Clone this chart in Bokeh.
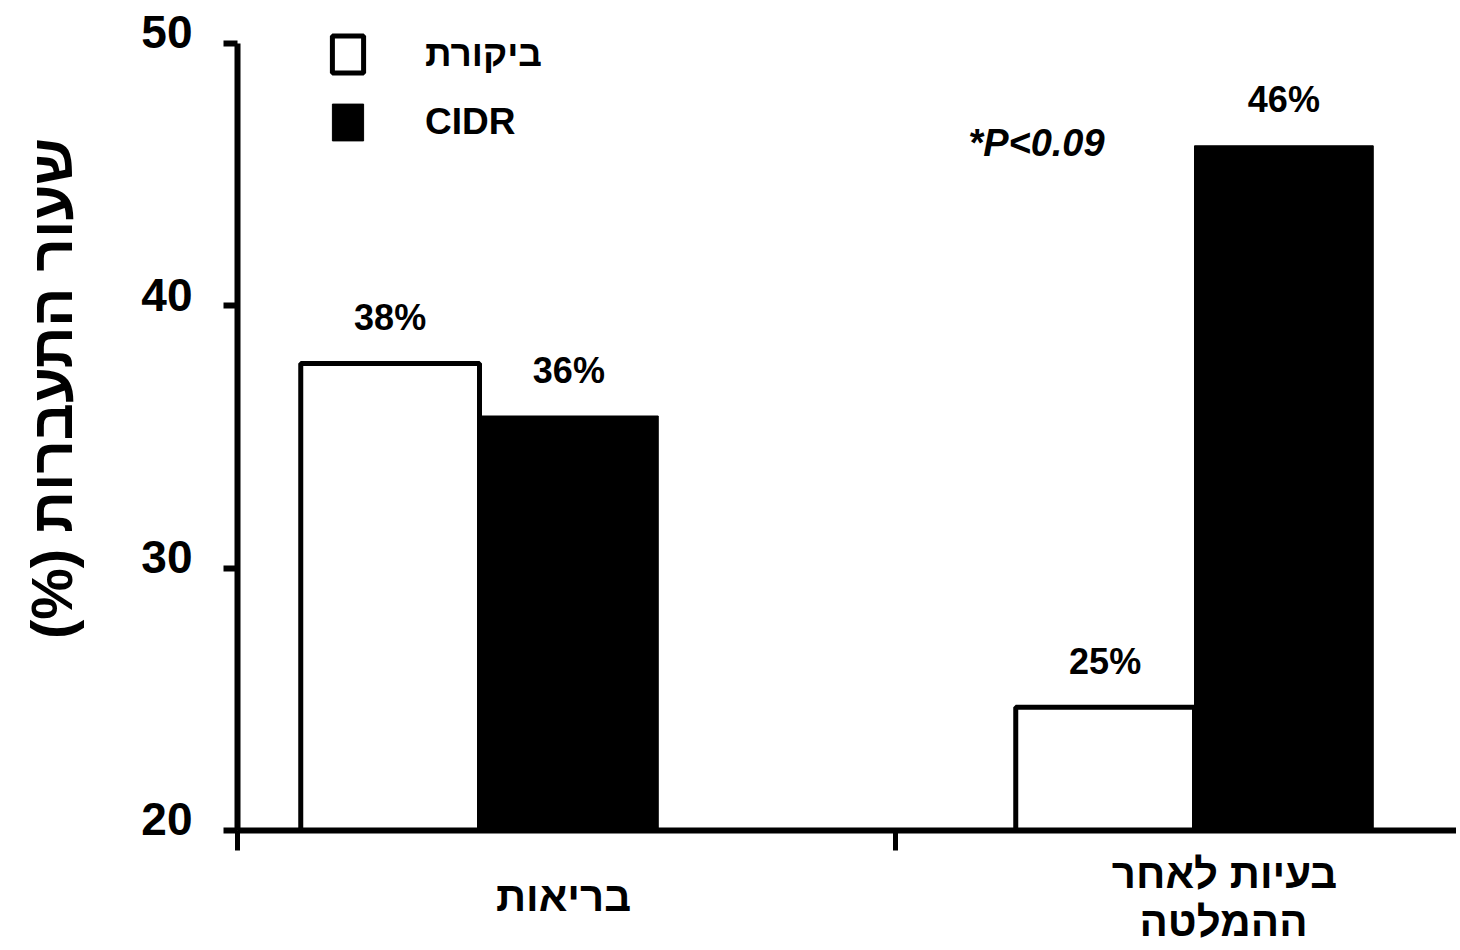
import math
from bokeh.plotting import figure
from bokeh.models import (Range1d, FixedTicker, Legend, LegendItem, Label,
                          ColumnDataSource, CustomJSTickFormatter)
from bokeh.core.properties import value
from bokeh.embed import file_html
from bokeh.resources import INLINE

# ---------------- data ----------------
categories = ["בריאות", "בעיות לאחר ההמלטה"]
category_lines = [["בריאות"], ["בעיות לאחר", "ההמלטה"]]
series_names = ["ביקורת", "CIDR"]
control_values = [37.8, 24.7]
cidr_values = [35.8, 46.1]
control_labels = ["38%", "25%"]
cidr_labels = ["36%", "46%"]
y_ticks = [20, 30, 40, 50]
y_tick_labels = ["20", "30", "40", "50"]
y_title = "שעור התעברות (%)"
note_text = "*P<0.09"

FONT = "Liberation Sans"

# ---------------- layout ----------------
W, H = 1456, 946
x_start, x_end = 0.33007, 2.36643
y_start, y_end = 15.578, 51.639
bar_w = 0.25
group_x = [1, 2]
ctrl_x = [g - bar_w / 2 for g in group_x]
cidr_x = [g + bar_w / 2 for g in group_x]
yaxis_x = 0.66154
divider_x = 1.5818

p = figure(width=W, height=H, output_backend="svg", toolbar_location=None,
           x_range=Range1d(x_start, x_end), y_range=Range1d(y_start, y_end),
           min_border=0, min_border_left=0, min_border_right=0,
           min_border_top=0, min_border_bottom=0)
p.outline_line_color = None
p.xgrid.visible = False
p.ygrid.visible = False
p.background_fill_color = "white"
p.border_fill_color = "white"

src_c = ColumnDataSource(dict(x=ctrl_x, top=control_values, lab=control_labels))
src_d = ColumnDataSource(dict(x=cidr_x, top=cidr_values, lab=cidr_labels))

r_ctrl = p.vbar(x="x", top="top", bottom=20, width=bar_w, source=src_c,
                fill_color="white", line_color="black", line_width=5)
r_cidr = p.vbar(x="x", top="top", bottom=20, width=bar_w, source=src_d,
                fill_color="black", line_color="black", line_width=1)

for src in (src_c, src_d):
    p.text(x="x", y="top", text="lab", source=src, y_offset=-46,
           text_align="center", text_baseline="middle",
           text_font=value(FONT), text_font_style="bold",
           text_font_size="36px", text_color="black")

blank = CustomJSTickFormatter(code="return ''")

# y axis
ya = p.yaxis[0]
ya.fixed_location = yaxis_x
ya.ticker = FixedTicker(ticks=y_ticks)
ya.formatter = blank
ya.bounds = (20, 50)
ya.axis_line_width = 6
ya.axis_line_color = "black"
ya.major_tick_line_width = 6
ya.major_tick_out = 14
ya.major_tick_in = 0
ya.minor_tick_line_color = None

# y tick labels (drawn through the y scale, raised slightly as in the original)
p.text(x=[yaxis_x] * len(y_ticks), y=y_ticks, text=y_tick_labels,
       x_offset=-45, y_offset=-11, text_align="right", text_baseline="middle",
       text_font=value(FONT), text_font_style="bold", text_font_size="46px",
       text_color="black")

# x axis
xa = p.xaxis[0]
xa.fixed_location = 20
xa.ticker = FixedTicker(ticks=[yaxis_x, divider_x])
xa.formatter = CustomJSTickFormatter(code="return ''")
xa.bounds = (yaxis_x, x_end)
xa.axis_line_width = 6
xa.axis_line_color = "black"
xa.major_tick_line_width = 5
xa.major_tick_out = 20
xa.major_tick_in = 0
xa.minor_tick_line_color = None

# category labels
cat_pos = [[(1.1175, 17.484)], [(2.0420, 18.361), (2.0406, 16.531)]]
lx, ly, lt = [], [], []
for lines, poss in zip(category_lines, cat_pos):
    for txt, (cx, cy) in zip(lines, poss):
        lx.append(cx); ly.append(cy); lt.append(txt)
p.text(x=lx, y=ly, text=lt, text_align="center", text_baseline="middle",
       text_font=value(FONT), text_font_style="bold", text_font_size="42px",
       text_color="black")

# y title
p.add_layout(Label(x=0.4014, y=36.849, text=y_title + "\u200f", angle=math.pi / 2,
                   text_align="center", text_baseline="middle", text_font=FONT,
                   text_font_style="bold", text_font_size="58px", text_color="black"))

# p-value note
p.add_layout(Label(x=1.779, y=46.226, text=note_text, text_align="center",
                   text_baseline="middle", text_font=FONT,
                   text_font_style="bold italic", text_font_size="38px",
                   text_color="black"))

legend = Legend(items=[LegendItem(label=series_names[0], renderers=[r_ctrl]),
                       LegendItem(label=series_names[1], renderers=[r_cidr])],
                location=(328, 800.6), padding=0, margin=0,
                glyph_width=39, glyph_height=46, label_standoff=58, spacing=22,
                label_text_font=FONT, label_text_font_style="bold",
                label_text_font_size="37px", label_text_color="black",
                background_fill_alpha=0, border_line_color=None)
p.add_layout(legend)

open("out.html", "w").write(file_html(p, INLINE))
